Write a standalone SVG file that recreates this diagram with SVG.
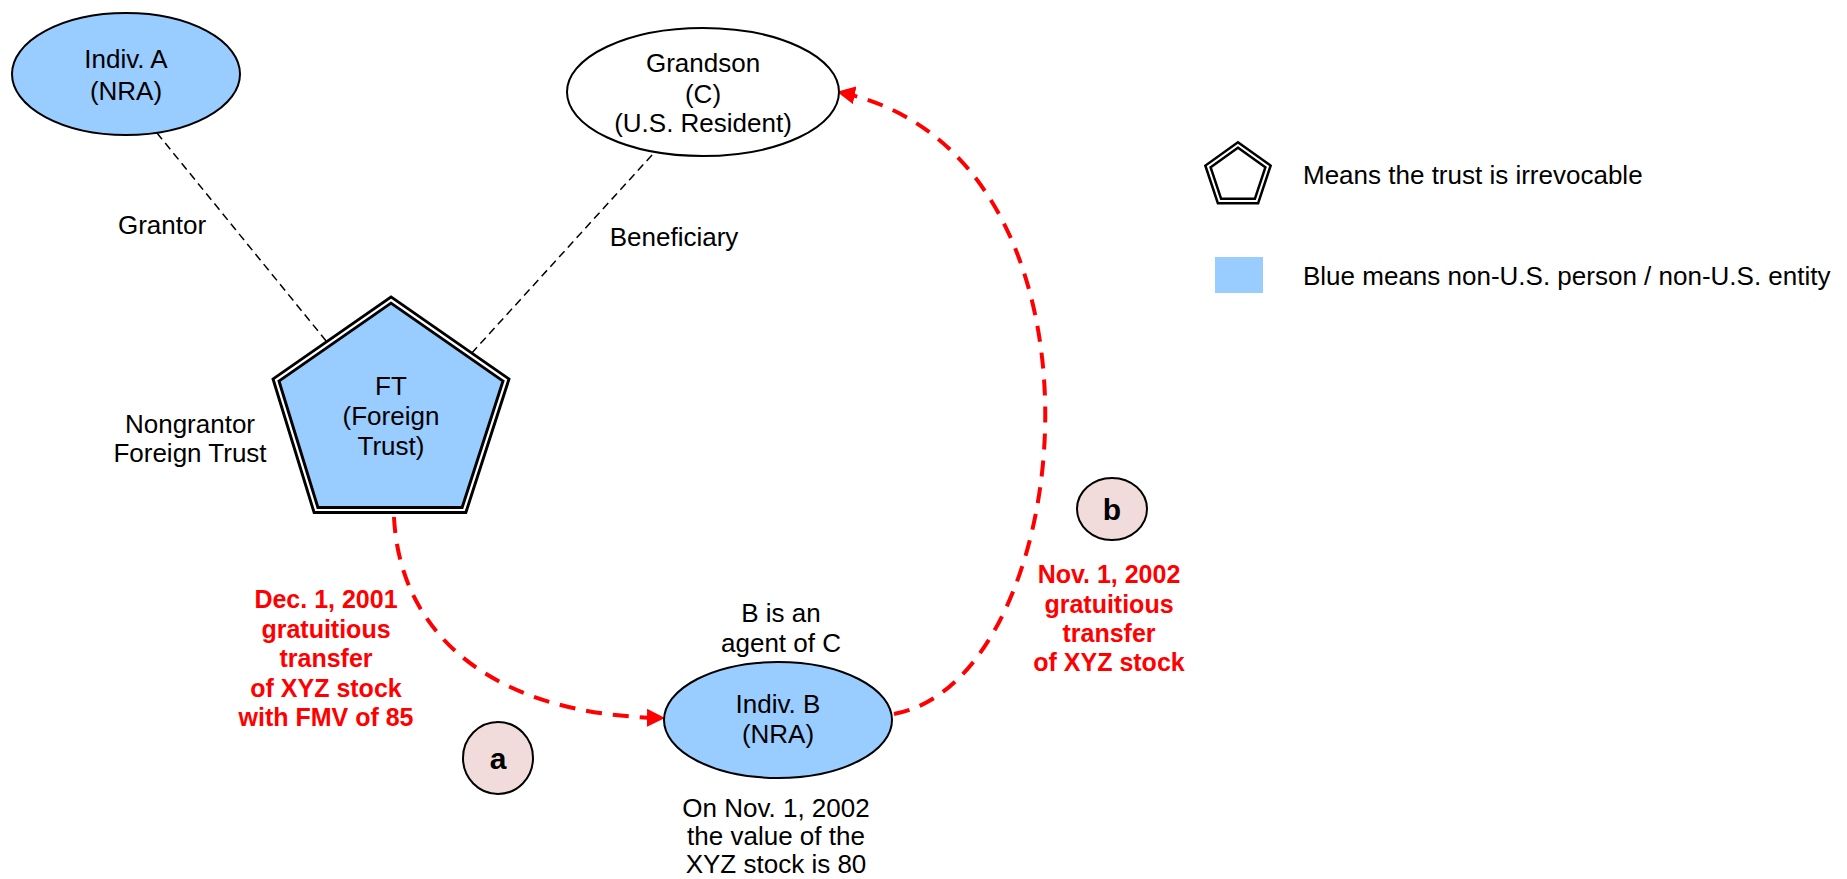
<svg xmlns="http://www.w3.org/2000/svg" width="1847" height="879" viewBox="0 0 1847 879">
<defs>
<style>
.t{font-family:"Liberation Sans",Arial,sans-serif;font-size:26px;fill:#000;text-anchor:middle}
.r{font-family:"Liberation Sans",Arial,sans-serif;font-size:25px;font-weight:bold;fill:#ff0000;text-anchor:middle}
.lg{font-family:"Liberation Sans",Arial,sans-serif;font-size:26px;fill:#000}
.ell{stroke:#000;stroke-width:2}
.blue{fill:#99ccff}
.pink{fill:#f2dcdb}
.thin{stroke:#000;stroke-width:1.5;stroke-dasharray:8 5;fill:none}
.red{stroke:#ff0000;stroke-width:4;stroke-dasharray:16 11;fill:none}
.lbl{font-family:"Liberation Sans",Arial,sans-serif;font-size:30px;font-weight:bold;fill:#000;text-anchor:middle}
</style>
<marker id="ah" markerWidth="18" markerHeight="18" viewBox="0 0 18 18" refX="17" refY="9" orient="auto" markerUnits="userSpaceOnUse">
<path d="M0,0 L18,9 L0,18 Z" fill="#ff0000"/>
</marker>
</defs>
<rect width="1847" height="879" fill="#fff"/>
<g id="connectors">
<line class="thin" x1="157" y1="133" x2="327" y2="342"/>
<line class="thin" x1="652" y1="155" x2="470" y2="355"/>
<path class="red" d="M394 517 C400 640 500 716 664 718" marker-end="url(#ah)"/>
<path class="red" d="M894 714 C1080 680 1130 150 838 92" marker-end="url(#ah)"/>
</g>
<g id="indivA">
<ellipse class="ell blue" cx="126" cy="74" rx="114" ry="61"/>
<text class="t" x="126" y="68">Indiv. A</text>
<text class="t" x="126" y="100">(NRA)</text>
</g>
<g id="grandson">
<ellipse class="ell" fill="#fff" cx="703" cy="92" rx="136" ry="64"/>
<text class="t" x="703" y="72">Grandson</text>
<text class="t" x="703" y="103">(C)</text>
<text class="t" x="703" y="132">(U.S. Resident)</text>
</g>
<g id="ft">
<polygon points="391,300 506,380 464,510 316,510 276,380" class="blue" stroke="#000" stroke-width="8" stroke-linejoin="miter"/>
<polygon points="391,300 506,380 464,510 316,510 276,380" fill="none" stroke="#fff" stroke-width="2.2" stroke-linejoin="miter"/>
<text class="t" x="391" y="395">FT</text>
<text class="t" x="391" y="425">(Foreign</text>
<text class="t" x="391" y="455">Trust)</text>
</g>
<g id="indivB">
<ellipse class="ell blue" cx="778" cy="720" rx="114" ry="58"/>
<text class="t" x="778" y="713">Indiv. B</text>
<text class="t" x="778" y="743">(NRA)</text>
</g>
<g id="circleA">
<ellipse class="ell pink" cx="498" cy="758" rx="35" ry="36"/>
<text class="lbl" x="498" y="769">a</text>
</g>
<g id="circleB">
<ellipse class="ell pink" cx="1112" cy="509" rx="35" ry="31"/>
<text class="lbl" x="1112" y="520">b</text>
</g>
<g id="labels">
<text class="t" x="162" y="234">Grantor</text>
<text class="t" x="674" y="246">Beneficiary</text>
<text class="t" x="190" y="433">Nongrantor</text>
<text class="t" x="190" y="462">Foreign Trust</text>
<text class="t" x="781" y="622">B is an</text>
<text class="t" x="781" y="652">agent of C</text>
<text class="t" x="776" y="817">On Nov. 1, 2002</text>
<text class="t" x="776" y="845">the value of the</text>
<text class="t" x="776" y="873">XYZ stock is 80</text>
<text class="r" x="326" y="608">Dec. 1, 2001</text>
<text class="r" x="326" y="638">gratuitious</text>
<text class="r" x="326" y="667">transfer</text>
<text class="r" x="326" y="697">of XYZ stock</text>
<text class="r" x="326" y="726">with FMV of 85</text>
<text class="r" x="1109" y="583">Nov. 1, 2002</text>
<text class="r" x="1109" y="613">gratuitious</text>
<text class="r" x="1109" y="642">transfer</text>
<text class="r" x="1109" y="671">of XYZ stock</text>
</g>
<g id="legend">
<polygon points="1238,145 1268,166.5 1256.5,201 1219.5,201 1208,166.5" fill="none" stroke="#000" stroke-width="7"/>
<polygon points="1238,145 1268,166.5 1256.5,201 1219.5,201 1208,166.5" fill="none" stroke="#fff" stroke-width="2"/>
<text class="lg" x="1303" y="184">Means the trust is irrevocable</text>
<rect x="1215" y="257" width="48" height="36" fill="#99ccff"/>
<text class="lg" x="1303" y="285">Blue means non-U.S. person / non-U.S. entity</text>
</g>
</svg>
